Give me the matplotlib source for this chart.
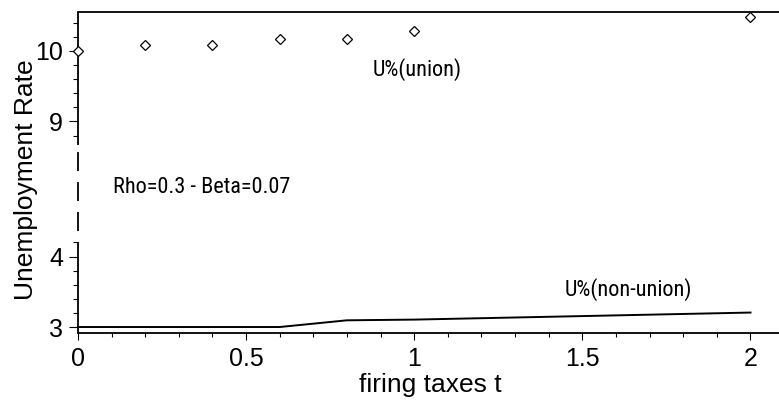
import matplotlib
matplotlib.use("Agg")
import matplotlib.pyplot as plt
import numpy as np
from matplotlib import font_manager
from matplotlib.scale import FuncScale
from matplotlib.ticker import FixedLocator, FixedFormatter

# ---------------- data ----------------
t_values = [0.0, 0.2, 0.4, 0.6, 0.8, 1.0, 2.0]
u_union = [10.0, 10.085, 10.08, 10.17, 10.17, 10.288, 10.478]
u_nonunion = [3.0, 3.0, 3.0, 3.0, 3.095, 3.105, 3.205]

x_major = [0, 0.5, 1, 1.5, 2]
x_major_labels = ["0", "0.5", "1", "1.5", "2"]
x_minor = [0.1, 0.2, 0.3, 0.4, 0.6, 0.7, 0.8, 0.9, 1.1, 1.2, 1.3, 1.4,
           1.6, 1.7, 1.8, 1.9]
y_major = [3, 4, 9, 10]
y_major_labels = ["3", "4", "9", "10"]
y_minor = [3.2, 3.4, 3.6, 3.8, 4.2, 8.8, 9.2, 9.4, 9.6, 9.8, 10.2, 10.4]

label_union = "U%(union)"
label_nonunion = "U%(non-union)"
label_params = "Rho=0.3 - Beta=0.07"
xlabel = "firing taxes t"
ylabel = "Unemployment Rate"

# ---------------- fonts ----------------
fonts = font_manager.fontManager.ttflist
names = {f.name for f in fonts}
main_font = "Liberation Sans" if "Liberation Sans" in names else "DejaVu Sans"
narrow_kw = dict(family=main_font, fontsize=13.5)
for cand in ("Liberation Sans Narrow", "Roboto Condensed", "Open Sans Condensed",
             "Noto Sans Condensed", "DejaVu Sans Condensed"):
    if cand in names:
        narrow_kw = dict(family=cand, fontsize=16)
        break
else:
    cond = [f for f in fonts
            if str(f.stretch) in ("condensed", "semi-condensed", "500", "400")
            and str(f.stretch) in ("condensed", "semi-condensed")
            and f.style == "normal"]
    if cond:
        f = cond[0]
        narrow_kw = dict(fontproperties=font_manager.FontProperties(
            fname=f.fname, size=15.5))
plt.rcParams["font.family"] = [main_font, "DejaVu Sans"]

# ---------------- broken y scale ----------------
S = 70.5            # px per unit in the solid parts
YLO, YB1, YB2, YHI = 2.915, 4.206, 8.667, 10.553
GAP = 97.0          # px used for the compressed break
G = GAP / (YB2 - YB1)
P1 = (YB1 - YLO) * S
P2 = P1 + GAP


def fwd(y):
    y = np.asarray(y, dtype=float)
    return np.where(y <= YB1, (y - YLO) * S,
                    np.where(y < YB2, P1 + (y - YB1) * G, P2 + (y - YB2) * S))


def inv(p):
    p = np.asarray(p, dtype=float)
    return np.where(p <= P1, YLO + p / S,
                    np.where(p < P2, YB1 + (p - P1) / G, YB2 + (p - P2) / S))


W, H = 779, 403
fig = plt.figure(figsize=(W / 100, H / 100), dpi=100)
ax = fig.add_axes([78 / W, 70 / H, 701 / W, 321 / H])
ax.set_yscale(FuncScale(ax, (fwd, inv)))
ax.set_ylim(YLO, YHI)
ax.set_xlim(0, 701 / 336.25)

ax.plot(t_values, u_nonunion, color="black", lw=1.4, clip_on=False, zorder=3)
ax.plot(t_values, u_union, ls="none", marker="D", ms=4.6, mfc="white",
        mec="black", mew=0.9, clip_on=False, zorder=4)

# spines
for s in ("right", "left"):
    ax.spines[s].set_visible(False)
for s in ("top", "bottom"):
    ax.spines[s].set_linewidth(1.3)
ax.vlines([0, 0], [YLO, YB2], [YB1, YHI], colors="black", lw=1.3,
          clip_on=False, zorder=2)
ax.vlines([0], [YB1], [YB2], colors="black", lw=1.3, clip_on=False, zorder=2,
          linestyles=[(10.5, (10.5, 6.1))])

ax.xaxis.set_major_locator(FixedLocator(x_major))
ax.xaxis.set_major_formatter(FixedFormatter(x_major_labels))
ax.xaxis.set_minor_locator(FixedLocator(x_minor))
ax.yaxis.set_major_locator(FixedLocator(y_major))
ax.yaxis.set_major_formatter(FixedFormatter(y_major_labels))
ax.yaxis.set_minor_locator(FixedLocator(y_minor))

ax.tick_params(axis="x", which="major", direction="out", length=5, width=0.8,
               labelsize=18, pad=5)
ax.tick_params(axis="x", which="minor", direction="out", length=3.2, width=0.8)
ax.tick_params(axis="y", which="major", direction="out", length=6.5, width=0.8,
               labelsize=18, pad=4.3)
ax.tick_params(axis="y", which="minor", direction="out", length=3.6, width=0.8)

# annotations
ax.text((373 - 78) / 336.25, 10 - (75.5 - 51) / S, label_union,
        ha="left", va="baseline", **narrow_kw)
ax.text((565 - 78) / 336.25, 3 + (327 - 296) / S, label_nonunion,
        ha="left", va="baseline", **narrow_kw)
ax.text(35 / 701, (333 - 193) / 321, label_params, transform=ax.transAxes,
        ha="left", va="baseline", **narrow_kw)

fig.text(430 / W, 1 - 392 / H, xlabel, fontsize=19, ha="center", va="baseline")
fig.text(33 / W, 1 - 180 / H, ylabel, fontsize=19, rotation=90,
         rotation_mode="anchor", ha="center", va="baseline")

fig.savefig("out.png", dpi=100, facecolor="white")
